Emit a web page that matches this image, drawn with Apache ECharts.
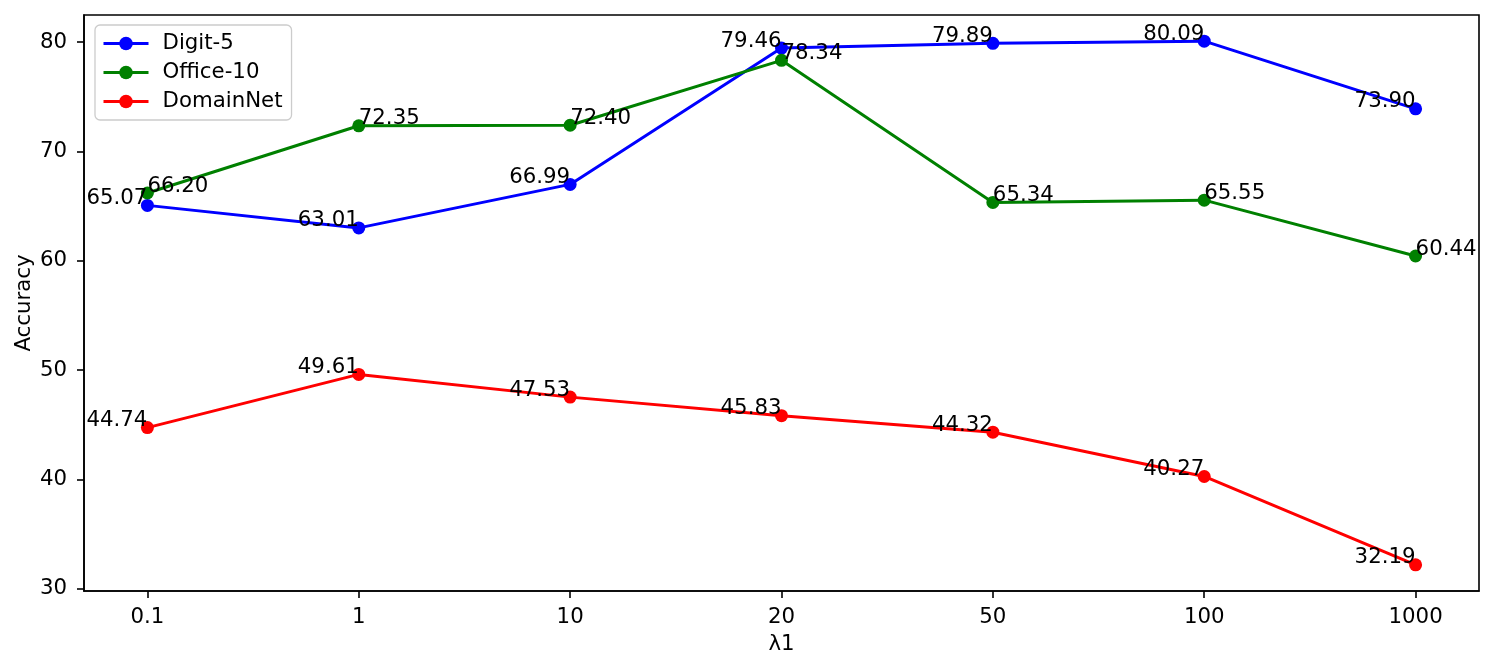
<!DOCTYPE html>
<html>
<head>
<meta charset="utf-8">
<script src="https://cdn.jsdelivr.net/npm/echarts@6/dist/echarts.min.js"></script>
<style>
html,body{margin:0;padding:0;background:#fff;}
#c{width:1496px;height:670px;}
</style>
</head>
<body>
<div id="c"></div>
<script>
const categories = ['0.1', '1', '10', '20', '50', '100', '1000'];
const digit5 = [65.07, 63.01, 66.99, 79.46, 79.89, 80.09, 73.90];
const office10 = [66.20, 72.35, 72.40, 78.34, 65.34, 65.55, 60.44];
const domainNet = [44.74, 49.61, 47.53, 45.83, 44.32, 40.27, 32.19];
const yTicks = [30, 40, 50, 60, 70, 80];
const seriesNames = ['Digit-5', 'Office-10', 'DomainNet'];

const FONT = 'DejaVu Sans';
const FS = 21.3;
const all = digit5.concat(office10, domainNet);
const dmin = Math.min(...all), dmax = Math.max(...all);
const yr = dmax - dmin;
const yMin = dmin - 0.05 * yr, yMax = dmax + 0.05 * yr;
const n = categories.length;
const xMin = -0.05 * (n - 1), xMax = (n - 1) * 1.05;
const xIdx = categories.map((c, i) => i);

function mk(name, vals, color, align) {
  return {
    name: name,
    type: 'line',
    data: vals.map((v, i) => [i, v]),
    symbol: 'circle',
    symbolSize: 13,
    lineStyle: {color: color, width: 3},
    itemStyle: {color: color},
    emphasis: {disabled: true},
    animation: false,
    z: 2,
    label: {
      show: true,
      position: ['50%', '50%'],
      align: align,
      verticalAlign: 'middle',
      offset: [0, -7],
      color: '#000',
      fontFamily: FONT,
      fontSize: FS,
      formatter: p => p.value[1].toFixed(2)
    }
  };
}

const chart = echarts.init(document.getElementById('c'), null, {renderer: 'canvas'});
chart.setOption({
  backgroundColor: '#fff',
  animation: false,
  grid: {left: 84, top: 15, width: 1395, height: 576, show: true, borderColor: '#000', borderWidth: 1.6,
    backgroundColor: 'transparent', outerBoundsMode: 'none', containLabel: false},
  legend: {
    left: 95, top: 25, orient: 'vertical',
    data: seriesNames,
    backgroundColor: '#fff',
    borderColor: '#cccccc', borderWidth: 1.3, borderRadius: 5,
    padding: [8, 9, 8, 7],
    itemWidth: 45, itemHeight: 17, itemGap: 8,
    lineStyle: {width: 3},
    textStyle: {fontFamily: FONT, fontSize: FS, color: '#000', padding: [0, 0, 0, 9], lineHeight: 20}
  },
  xAxis: {
    type: 'value', min: xMin, max: xMax,
    name: 'λ1', nameLocation: 'middle', nameGap: 43, nameMoveOverlap: false,
    nameTextStyle: {fontFamily: FONT, fontSize: FS, color: '#000'},
    axisLine: {show: true, onZero: false, lineStyle: {color: '#000', width: 1.6}},
    axisTick: {show: true, length: 7, lineStyle: {color: '#000', width: 1.6}, customValues: xIdx},
    axisLabel: {fontFamily: FONT, fontSize: FS, color: '#000', margin: 16, customValues: xIdx,
      formatter: v => categories[Math.round(v)]},
    splitLine: {show: false}
  },
  yAxis: {
    type: 'value', min: yMin, max: yMax,
    name: 'Accuracy', nameLocation: 'middle', nameGap: 49, nameMoveOverlap: false,
    nameTextStyle: {fontFamily: FONT, fontSize: FS, color: '#000'},
    axisLine: {show: true, onZero: false, lineStyle: {color: '#000', width: 1.6}},
    axisTick: {show: true, length: 7, lineStyle: {color: '#000', width: 1.6}, customValues: yTicks},
    axisLabel: {fontFamily: FONT, fontSize: FS, color: '#000', margin: 17, customValues: yTicks,
      formatter: v => String(v)},
    splitLine: {show: false}
  },
  series: [
    mk(seriesNames[0], digit5, '#0000ff', 'right'),
    mk(seriesNames[1], office10, '#008000', 'left'),
    mk(seriesNames[2], domainNet, '#ff0000', 'right')
  ]
});
</script>
</body>
</html>
